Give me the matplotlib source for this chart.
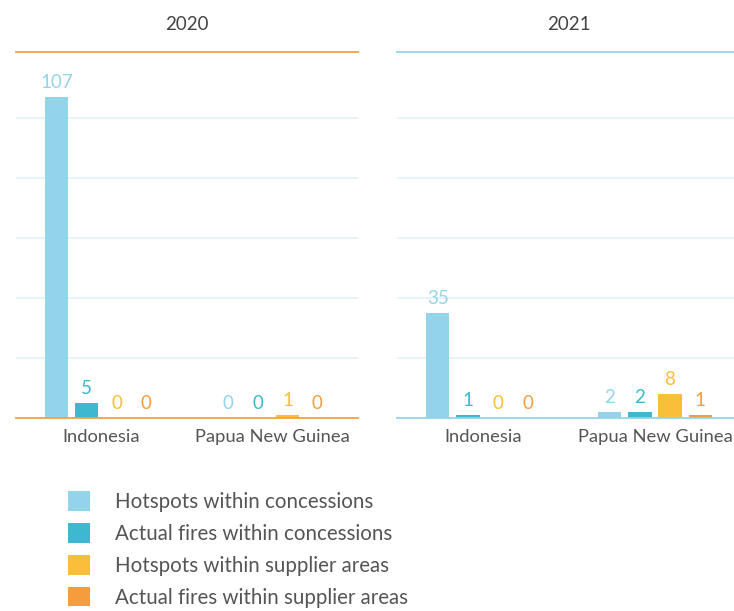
import matplotlib.pyplot as plt
from matplotlib.patches import Patch

plt.rcParams['font.family'] = ['Lato', 'DejaVu Sans']

years = ['2020', '2021']
countries = ['Indonesia', 'Papua New Guinea']
series = ['Hotspots within concessions', 'Actual fires within concessions',
          'Hotspots within supplier areas', 'Actual fires within supplier areas']
# values[year][series] -> [Indonesia, PNG]
values_2020 = [[107, 0], [5, 0], [0, 1], [0, 0]]
values_2021 = [[35, 2], [1, 2], [0, 8], [0, 1]]
values = [values_2020, values_2021]

colors = ['#93d4ea', '#3db8d0', '#f9bf3b', '#f59d3d']
frame_colors = ['#f5a040', '#93d4ea']

fig = plt.figure(figsize=(7.34, 6.11), dpi=100)
axes = [fig.add_axes([16/734, 1-418/611, 342/734, 366/611]),
        fig.add_axes([397/734, 1-418/611, 344/734, 366/611])]

width = 0.135
step = 0.175
for k, ax in enumerate(axes):
    for i, vals in enumerate(values[k]):
        xs = [c + (i - 1.5) * step for c in range(len(countries))]
        bars = ax.bar(xs, vals, width=width, color=colors[i], zorder=3)
        for b, v in zip(bars, vals):
            ax.annotate(str(v), (b.get_x() + b.get_width()/2, b.get_height()),
                        xytext=(0, 4), textcoords='offset points',
                        ha='center', va='bottom', color=colors[i], fontsize=13.5)
    ax.set_xlim(-0.5, 1.5)
    ax.set_ylim(0, 122)
    ax.set_yticks([20, 40, 60, 80, 100])
    ax.set_yticklabels([])
    ax.grid(axis='y', color='#e2f2f9', linewidth=1.2, zorder=0)
    ax.set_xticks(range(len(countries)))
    ax.set_xticklabels(countries, fontsize=13.2, color='#555555')
    ax.tick_params(axis='both', length=0, pad=8)
    for s in ['left', 'right']:
        ax.spines[s].set_visible(False)
    for s in ['top', 'bottom']:
        ax.spines[s].set_color(frame_colors[k])
        ax.spines[s].set_linewidth(1.3)
        ax.spines[s].set_zorder(4)
    ax.set_title(years[k], fontsize=13.5, color='#444444', pad=16)

handles = [Patch(facecolor=c, edgecolor='none') for c in colors]
fig.legend(handles, series, loc='upper left', bbox_to_anchor=(49/734, 1-473/611),
           frameon=False, fontsize=14.8, handlelength=1.1, handleheight=1.1,
           handletextpad=1.2, labelspacing=0.53, labelcolor='#555555')

fig.savefig('out.png', dpi=100)
